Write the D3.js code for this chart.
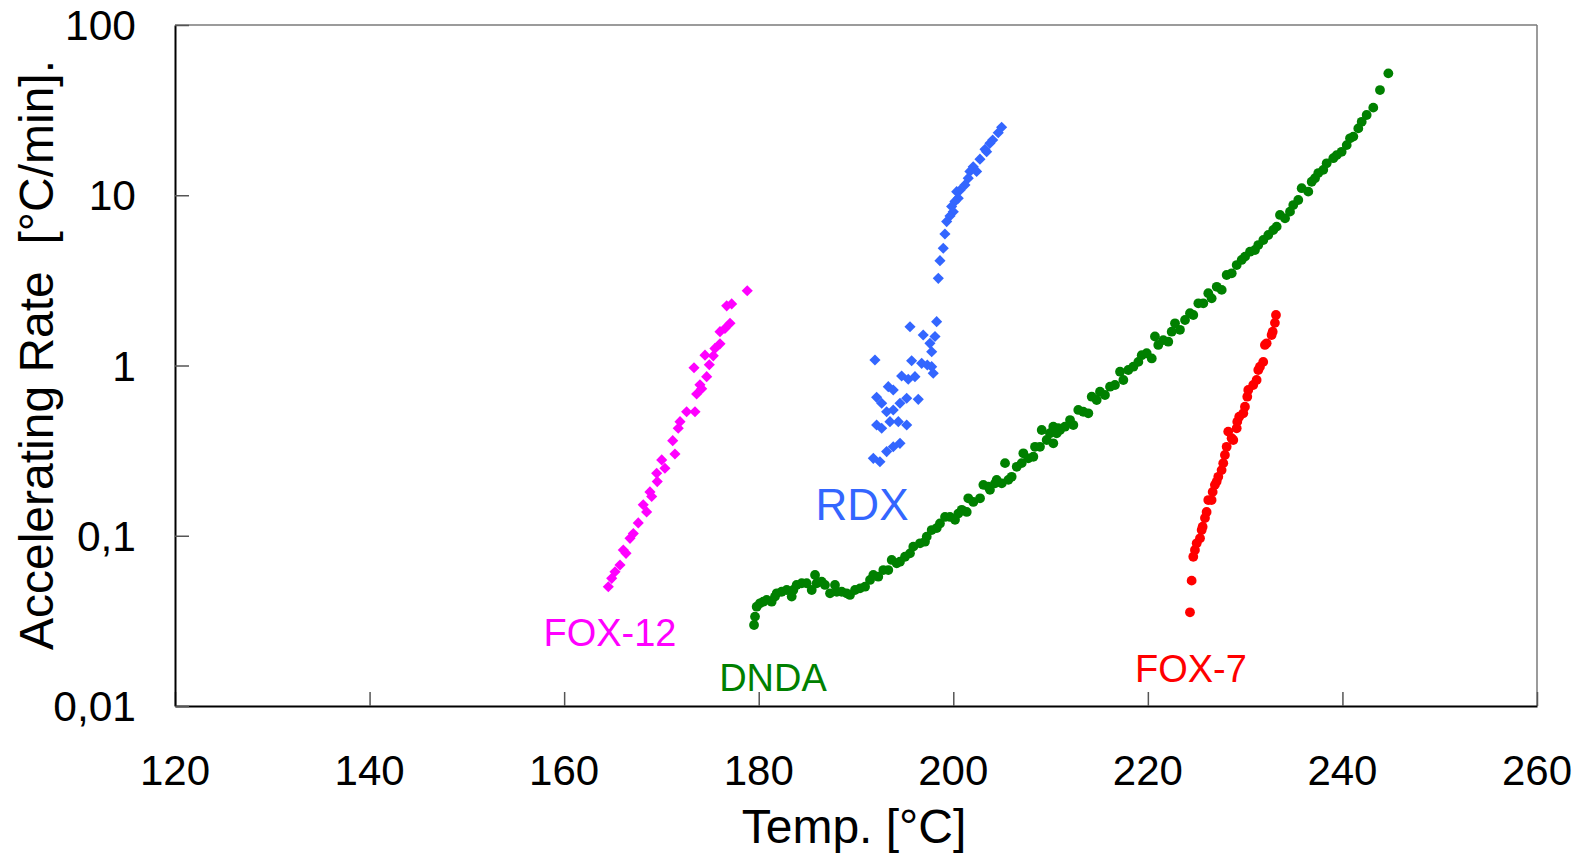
<!DOCTYPE html>
<html>
<head>
<meta charset="utf-8">
<script src="https://cdn.jsdelivr.net/npm/d3@7"></script>
<style>
  html, body { margin: 0; padding: 0; background: #fff; }
  svg { display: block; font-family: "Liberation Sans", Arial, sans-serif; }
  text { white-space: pre; }
</style>
</head>
<body>
<svg id="chart" width="1589" height="853"></svg>
<script>
// ---------- DATA ----------
const xTicks = [120, 140, 160, 180, 200, 220, 240, 260];
const yTicks = [0.01, 0.1, 1, 10, 100];
const yTickLabels = ["0,01", "0,1", "1", "10", "100"];
const xTitle = "Temp. [°C]";
const yTitle = "Accelerating Rate  [°C/min].";

const fox12T = [178.82,176.71,177.22,177.05,176.02,176.53,176.02,175.50,174.48,175.33,174.92,173.35,174.65,173.96,174.14,173.62,172.59,173.45,171.91,171.73,171.16,171.39,170.03,170.36,169.51,169.57,168.82,169.0,168.13,168.48,167.62,167.11,166.77,166.08,166.36,165.74,165.23,164.89,164.54];
const fox12V = [2.75,2.24,2.30,1.77,1.58,1.65,1.34,1.26,1.15,1.14,1.01,0.97,0.86,0.77,0.73,0.68,0.535,0.535,0.468,0.428,0.362,0.302,0.279,0.249,0.233,0.208,0.181,0.170,0.152,0.138,0.119,0.103,0.0966,0.0825,0.0788,0.0673,0.0615,0.0562,0.0502];

const rdxT = [204.97,204.62,204.05,203.77,203.26,203.43,202.74,202.05,202.40,201.71,201.54,201.20,200.69,200.35,200.51,200.17,199.83,200.0,199.66,199.32,199.14,198.97,198.63,198.46,198.29,195.55,196.91,198.12,197.60,197.78,191.95,195.72,196.75,197.33,197.78,197.94,194.69,195.37,196.06,193.32,193.83,192.12,192.64,196.40,195.21,194.52,193.83,193.15,192.12,192.64,193.49,194.35,195.21,194.52,193.83,193.15,191.78,192.46];
const rdxV = [25.07,23.3,21.1,20.2,18.6,18.0,16.3,14.7,13.8,13.8,12.6,11.5,10.7,10.5,9.6,9.2,8.6,8.0,7.55,7.0,5.92,4.88,4.13,3.25,1.81,1.69,1.51,1.48,1.35,1.205,1.077,1.067,1.03,1.007,0.984,0.90,0.868,0.83,0.86,0.751,0.718,0.65,0.60,0.633,0.642,0.60,0.548,0.535,0.447,0.428,0.468,0.468,0.447,0.349,0.333,0.312,0.285,0.272];

const dndaT = [179.52,179.62,179.79,180.13,180.47,180.82,181.33,181.67,181.85,182.36,182.88,183.39,183.56,183.90,184.42,184.93,185.45,185.79,185.96,186.47,186.81,187.33,187.84,188.02,188.53,189.04,189.38,189.90,190.41,190.93,191.44,191.78,192.29,192.81,193.32,193.67,194.18,194.52,195.04,195.55,195.89,196.58,197.09,197.27,197.78,198.30,198.63,199.15,199.66,200.18,200.52,200.87,201.38,201.54,202.06,202.75,203.09,203.60,203.77,204.29,204.46,204.98,205.32,205.66,206.00,206.52,207.03,207.20,207.71,208.23,208.40,208.91,209.09,209.60,209.94,210.28,210.28,210.63,210.79,210.97,211.48,212.00,212.34,212.85,213.36,213.88,214.23,214.74,215.08,215.59,216.11,216.62,217.14,217.48,217.99,218.51,219.02,219.37,219.88,220.40,220.73,221.07,221.59,222.10,222.45,222.79,223.30,223.82,224.33,224.67,225.19,225.70,226.21,226.56,227.08,227.59,228.10,228.62,229.13,229.64,229.99,230.50,231.01,231.35,231.87,232.38,232.89,233.24,233.58,234.10,234.61,234.95,235.46,235.81,236.49,236.84,237.18,237.52,238.03,238.38,239.06,239.41,239.92,240.44,240.78,241.12,241.63,241.98,242.49,243.17,243.86,244.72];
const dndaV = [0.0299,0.0335,0.0383,0.0401,0.0410,0.0420,0.0410,0.0439,0.0459,0.0469,0.0480,0.0439,0.0480,0.0514,0.0526,0.0526,0.0480,0.0588,0.0526,0.0537,0.0514,0.0459,0.0514,0.0469,0.0469,0.0459,0.0449,0.0480,0.0491,0.0502,0.0550,0.0588,0.0575,0.0629,0.0629,0.0721,0.0689,0.0704,0.0753,0.0788,0.0863,0.0903,0.0923,0.0988,0.108,0.111,0.118,0.129,0.129,0.124,0.135,0.142,0.138,0.166,0.158,0.166,0.199,0.194,0.186,0.203,0.213,0.203,0.267,0.213,0.222,0.254,0.267,0.305,0.285,0.291,0.333,0.333,0.418,0.365,0.400,0.437,0.349,0.400,0.428,0.418,0.437,0.478,0.447,0.548,0.535,0.524,0.656,0.627,0.702,0.671,0.751,0.768,0.920,0.822,0.941,0.984,1.05,1.15,1.18,1.10,1.48,1.32,1.41,1.38,1.58,1.77,1.62,1.85,2.03,1.98,2.32,2.32,2.66,2.48,2.90,2.78,3.40,3.48,3.89,4.17,4.36,4.66,4.77,5.10,5.46,5.84,6.25,6.54,7.66,7.32,8.01,8.76,9.38,11.0,10.5,12.0,12.6,13.5,14.1,15.4,16.5,17.2,18.0,19.7,21.6,22.1,24.7,27.0,29.6,32.7,41.5,52.0];

const fox7T = [233.17,233.06,232.83,232.72,232.21,232.03,231.86,231.52,231.35,231.18,230.83,230.32,230.22,229.98,229.81,229.39,229.19,229.13,228.26,228.61,228.78,228.10,227.92,227.75,227.58,227.24,227.07,226.89,226.66,226.55,226.21,226.04,225.87,225.63,225.53,225.36,225.02,224.84,224.67,224.50,224.33];
const fox7V = [1.98,1.78,1.58,1.51,1.35,1.32,1.05,0.984,0.941,0.822,0.768,0.718,0.656,0.573,0.524,0.50,0.468,0.428,0.409,0.374,0.365,0.333,0.298,0.267,0.243,0.222,0.208,0.199,0.181,0.162,0.162,0.138,0.127,0.113,0.108,0.0966,0.0903,0.0825,0.0753,0.0545,0.0355];

const seriesNames = ["FOX-12", "RDX", "DNDA", "FOX-7"];
const seriesColors = ["#FF00FF", "#3366FF", "#008000", "#FF0000"];
const labelT = [164.71, 190.62, 181.47, 224.43];
const labelV = [0.0225, 0.1238, 0.01225, 0.01384];

// ---------- LAYOUT ----------
const svg = d3.select("#chart");
const m = {left: 175, right: 1537, top: 25, bottom: 706};

const x = d3.scaleLinear().domain([120, 260]).range([m.left, m.right]);
const y = d3.scaleLog().domain([0.01, 100]).range([m.bottom, m.top]);

// frame: top & right grey
svg.append("line").attr("x1", m.left).attr("x2", m.right).attr("y1", m.top).attr("y2", m.top)
  .attr("stroke", "#7a7a7a").attr("stroke-width", 1.5);
svg.append("line").attr("x1", m.right).attr("x2", m.right).attr("y1", m.top).attr("y2", m.bottom)
  .attr("stroke", "#7a7a7a").attr("stroke-width", 1.5);

// axes with inward ticks
const xAxis = d3.axisBottom(x).tickValues(xTicks).tickSize(-14).tickSizeOuter(0).tickPadding(0).tickFormat(() => "");
const gx = svg.append("g").attr("transform", `translate(0,${m.bottom})`).call(xAxis);
gx.select(".domain").attr("stroke", "#000").attr("stroke-width", 2);
gx.selectAll(".tick line").attr("stroke", "#555").attr("stroke-width", 1.5);

const yAxis = d3.axisLeft(y).tickValues(yTicks).tickSize(-14).tickSizeOuter(0).tickFormat(() => "");
const gy = svg.append("g").attr("transform", `translate(${m.left},0)`).call(yAxis);
gy.select(".domain").attr("stroke", "#000").attr("stroke-width", 2);
gy.selectAll(".tick line").attr("stroke", "#555").attr("stroke-width", 1.5);

// tick labels
svg.append("g").selectAll("text").data(xTicks).join("text")
  .attr("x", d => x(d)).attr("y", 785)
  .attr("text-anchor", "middle").attr("font-size", 42).attr("fill", "#000")
  .text(d => d);
svg.append("g").selectAll("text").data(yTicks).join("text")
  .attr("x", 136).attr("y", d => y(d) + 15)
  .attr("text-anchor", "end").attr("font-size", 42.5).attr("fill", "#000")
  .text((d, i) => yTickLabels[i]);

// titles
svg.append("text").attr("x", (m.left + m.right) / 2 - 2).attr("y", 843)
  .attr("text-anchor", "middle").attr("font-size", 48).attr("fill", "#000").text(xTitle);
svg.append("text").attr("transform", `translate(53,${355}) rotate(-90)`)
  .attr("text-anchor", "middle").attr("font-size", 48).attr("fill", "#000").text(yTitle);

// ---------- MARKS ----------
const diamond = d3.symbol().type(d3.symbolSquare).size(62);
function drawDiamonds(ts, vs, color) {
  svg.append("g").selectAll("path").data(ts).join("path")
    .attr("d", diamond)
    .attr("transform", (d, i) => `translate(${x(d)},${y(vs[i])}) rotate(45)`)
    .attr("fill", color);
}
function drawCircles(ts, vs, color) {
  svg.append("g").selectAll("circle").data(ts).join("circle")
    .attr("cx", d => x(d)).attr("cy", (d, i) => y(vs[i])).attr("r", 4.9)
    .attr("fill", color);
}
drawDiamonds(fox12T, fox12V, seriesColors[0]);
drawDiamonds(rdxT, rdxV, seriesColors[1]);
drawCircles(dndaT, dndaV, seriesColors[2]);
drawCircles(fox7T, fox7V, seriesColors[3]);

// series labels
const labelSizes = [38, 44, 38, 38];
svg.append("g").selectAll("text").data(seriesNames).join("text")
  .attr("x", (d, i) => x(labelT[i])).attr("y", (d, i) => y(labelV[i]))
  .attr("text-anchor", "middle").attr("font-size", (d, i) => labelSizes[i])
  .attr("fill", (d, i) => seriesColors[i]).text(d => d);
</script>
</body>
</html>
